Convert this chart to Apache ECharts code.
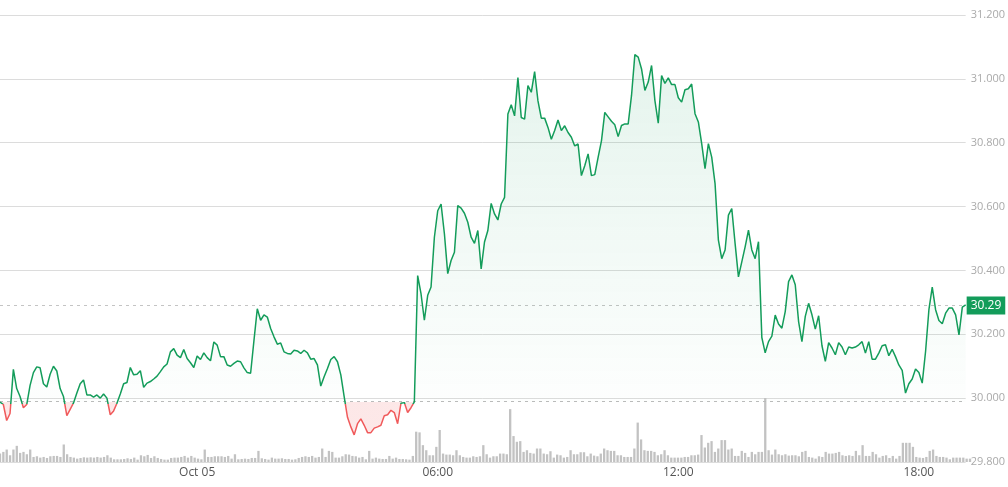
<!DOCTYPE html>
<html><head><meta charset="utf-8">
<script src="https://cdn.jsdelivr.net/npm/echarts@6/dist/echarts.min.js"></script>
<style>html,body{margin:0;padding:0;background:#fff}#c{width:1008px;height:487px}</style>
</head><body><div id="c"></div>
<script>
// ---- data ----
const startMinutes = 19 * 60 + 5;   // first bar: 19:05 (Oct 04), 5-minute bars
const stepMinutes = 5;
const baseline = 29.988;            // previous close
const keyTimes = ['00:00', '06:00', '12:00', '18:00'];
const keyLabels = ['Oct 05', '06:00', '12:00', '18:00'];
const yTicks = [29.8, 31.2, 0.2];   // min, max, interval

const prices = [
29.988,29.98,29.93,29.952,30.09,30.03,30.005,29.97,29.98,30.04,
30.08,30.098,30.095,30.045,30.035,30.075,30.1,30.085,30.03,30.005,
29.945,29.965,29.985,30.016,30.045,30.057,30.01,30.01,30.003,30.01,
30.0,30.013,30.0,29.948,29.96,29.984,30.013,30.045,30.049,30.096,
30.073,30.075,30.086,30.034,30.047,30.052,30.06,30.069,30.083,30.098,
30.107,30.145,30.155,30.135,30.127,30.152,30.124,30.111,30.096,30.132,
30.121,30.142,30.127,30.117,30.176,30.166,30.13,30.13,30.104,30.1,
30.109,30.116,30.114,30.095,30.08,30.078,30.18,30.28,30.244,30.261,
30.254,30.218,30.192,30.169,30.173,30.145,30.14,30.138,30.15,30.148,
30.14,30.15,30.142,30.122,30.124,30.104,30.038,30.067,30.093,30.121,
30.13,30.114,30.073,30.005,29.94,29.91,29.885,29.92,29.935,29.915,
29.892,29.892,29.906,29.91,29.915,29.945,29.948,29.962,29.955,29.92,
29.984,29.986,29.955,29.97,29.988,30.384,30.327,30.244,30.322,30.348,
30.504,30.587,30.608,30.515,30.39,30.431,30.457,30.603,30.595,30.579,
30.551,30.504,30.485,30.525,30.405,30.489,30.525,30.61,30.577,30.558,
30.608,30.629,30.89,30.919,30.884,31.004,30.879,30.874,30.979,30.958,
31.023,30.931,30.877,30.877,30.848,30.811,30.838,30.871,30.838,30.853,
30.832,30.817,30.79,30.796,30.697,30.728,30.765,30.697,30.7,30.754,
30.806,30.895,30.881,30.867,30.856,30.819,30.854,30.859,30.859,30.948,
31.076,31.068,31.031,30.964,30.99,31.042,30.932,30.861,31.01,30.986,
31.003,30.982,30.982,30.941,30.927,30.966,30.969,30.984,30.891,30.865,
30.797,30.719,30.797,30.755,30.672,30.495,30.437,30.464,30.573,30.594,
30.484,30.38,30.427,30.474,30.526,30.464,30.437,30.49,30.19,30.142,
30.177,30.194,30.26,30.232,30.219,30.271,30.365,30.386,30.355,30.24,
30.177,30.256,30.297,30.261,30.216,30.258,30.164,30.115,30.174,30.157,
30.136,30.174,30.16,30.136,30.16,30.157,30.16,30.167,30.177,30.141,
30.177,30.122,30.122,30.141,30.164,30.167,30.133,30.153,30.13,30.104,
30.087,30.016,30.045,30.06,30.091,30.08,30.047,30.146,30.277,30.348,
30.277,30.243,30.233,30.266,30.282,30.282,30.261,30.198,30.285,30.292
];

const volumes = [
25,30,37,20,37,48,27,30,23,37,
15,17,13,15,12,17,18,18,15,52,
23,15,13,10,12,14,13,14,13,15,
13,15,20,13,8,8,8,9,11,9,
13,7,20,17,21,12,17,12,9,7,
7,12,13,13,15,18,13,18,13,10,
8,37,15,15,17,17,17,15,18,10,
23,8,9,10,9,12,12,33,11,9,
7,13,10,10,11,9,9,7,8,12,
15,17,15,18,13,15,40,15,33,30,
13,13,17,23,22,18,17,13,15,8,
33,10,13,10,9,9,18,10,13,9,
9,8,7,18,90,88,50,35,20,20,
45,95,25,22,22,20,35,20,15,13,
13,17,15,17,50,23,13,17,17,25,
25,23,157,77,60,62,30,35,27,25,
40,40,25,23,32,13,22,20,13,15,
35,23,23,29,29,17,25,19,17,25,
40,35,33,33,20,20,15,15,15,40,
117,67,35,33,33,30,20,23,35,20,
13,13,13,13,15,15,20,20,22,80,
43,57,62,30,40,65,65,37,40,18,
18,33,27,15,30,23,30,30,190,35,
22,37,23,20,23,19,20,20,17,30,
33,15,13,10,17,15,30,25,25,27,
30,20,18,20,18,33,20,50,18,18,
30,23,13,18,20,12,18,10,18,57,
57,57,45,15,13,12,15,33,37,18,
15,15,13,8,13,13,13,13,10,10
];

// ---- build ----
const times = prices.map((_, i) => {
  const m = (startMinutes + i * stepMinutes) % 1440;
  return String(Math.floor(m / 60)).padStart(2, '0') + ':' + String(m % 60).padStart(2, '0');
});
const last = prices[prices.length - 1];
const pMax = Math.max(...prices), pMin = Math.min(...prices, baseline);
const f = (pMax - baseline) / (pMax - pMin);
const GREEN = '#139c5a', RED = '#f05a5b';

const lineGrad = {type:'linear', x:0, y:0, x2:0, y2:1, colorStops:[
  {offset:0, color:GREEN},{offset:f, color:GREEN},{offset:f, color:RED},{offset:1, color:RED}]};
const areaGrad = {type:'linear', x:0, y:0, x2:0, y2:1, colorStops:[
  {offset:0, color:'rgba(19,156,90,0.16)'},{offset:f, color:'rgba(19,156,90,0.01)'},
  {offset:f, color:'rgba(240,90,91,0.2)'},{offset:1, color:'rgba(240,90,91,0.2)'}]};

const chart = echarts.init(document.getElementById('c'));
chart.setOption({
  animation: false,
  textStyle: { fontFamily: 'Open Sans, sans-serif' },
  grid: [
    { left: 0, right: 38, top: 15, bottom: 25 },
    { left: 0, right: 38, top: 398, bottom: 25 }
  ],
  xAxis: [
    { type: 'category', gridIndex: 0, data: times, boundaryGap: false,
      axisLine: { show: false }, axisTick: { show: false }, splitLine: { show: false },
      axisLabel: { interval: (i, v) => keyTimes.includes(v), formatter: v => keyLabels[keyTimes.indexOf(v)],
                   color: '#555', fontSize: 12, margin: 5 } },
    { type: 'category', gridIndex: 1, data: times, boundaryGap: false, show: false }
  ],
  yAxis: [
    { type: 'value', gridIndex: 0, position: 'right', min: yTicks[0], max: yTicks[1], interval: yTicks[2],
      axisLine: { show: false }, axisTick: { show: false },
      splitLine: { lineStyle: { color: '#dcdcdc', width: 1 } },
      axisLabel: { formatter: v => v.toFixed(3), color: '#aaa', fontSize: 11, margin: 5 } },
    { type: 'value', gridIndex: 1, min: 0, max: Math.max(...volumes), show: false, splitLine: { show: false } }
  ],
  series: [
    { type: 'bar', xAxisIndex: 1, yAxisIndex: 1, data: volumes, barWidth: 2.3, silent: true,
      itemStyle: { color: '#c2c2c2' } },
    { type: 'line', xAxisIndex: 0, yAxisIndex: 0, data: prices, symbol: 'none', silent: true, z: 5,
      lineStyle: { width: 1.5, color: lineGrad },
      areaStyle: { origin: baseline, color: areaGrad },
      markLine: { symbol: ['none', 'none'], silent: true, animation: false,
        data: [
          { yAxis: baseline, lineStyle: { color: '#bbb', type: [3, 4], width: 1 }, label: { show: false } },
          { yAxis: last, lineStyle: { color: '#c4c4c4', type: [3, 4], width: 1 },
            label: { show: true, position: 'end', distance: 1, formatter: last.toFixed(2),
                     backgroundColor: GREEN, color: '#fff', fontSize: 12, padding: [3, 4, 3, 4] } }
        ] } }
  ]
});
</script></body></html>
